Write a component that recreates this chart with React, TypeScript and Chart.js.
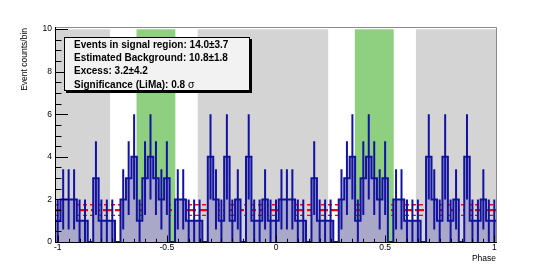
import React, { useEffect, useRef } from "react";
import { Chart, registerables } from "chart.js";

Chart.register(...registerables);

// ---------------- data ----------------
// counts per phase bin over one period (bin centres 0.000, 0.025, ... 0.975)
const periodCounts = [
  1, 2, 2, 2, 1, 1, 0, 3, 1, 1,
  1, 0, 2, 3, 4, 1, 3, 4, 3, 2,
  3, 0, 2, 2, 1, 1, 1, 0, 4, 2,
  1, 4, 1, 2, 0, 4, 1, 1, 2, 1,
];
const binWidth = 0.025;
const firstBinCentre = -1;
const binCount = 81; // phase shown twice, -1 ... 1
const backgroundRegions = [
  [-1.36, -0.76],
  [-0.36, 0.24],
  [0.64, 1.24],
];
const signalRegions = [
  [-0.64, -0.46],
  [0.36, 0.54],
];
const regionTop = 10;
const backgroundLevel = 1.5;
const backgroundLevelError = 0.25;
const xAxisMin = -1.0125;
const xAxisMax = 1.0125;
const yAxisMin = 0;
const yAxisMax = 10.1;
const xTickLabels = [-1, -0.5, 0, 0.5, 1];
const yTickLabels = [0, 2, 4, 6, 8, 10];
const xTitle = "Phase";
const yTitle = "Event counts/bin";
const statsLines = [
  "Events in signal region: 14.0\u00b13.7",
  "Estimated Background: 10.8\u00b11.8",
  "Excess: 3.2\u00b14.2",
  "Significance (LiMa): 0.8 ",
];
const statsSigma = "\u03c3";

// ---------------- styles ----------------
const FONT = "'Liberation Sans', Arial, Helvetica, sans-serif";
const histLine = "rgb(18,18,160)";
const histFill = "rgb(170,168,200)";
const grayBand = "rgb(212,212,212)";
const greenBand = "rgb(143,208,128)";
const red = "rgb(255,0,0)";

const rootStylePlugin = {
  id: "rootStyle",
  afterDatasetsDraw(chart: any) {
    const { ctx, chartArea: a, scales } = chart;
    const x = scales.x;
    const y = scales.y;
    ctx.save();
    // frame
    ctx.lineWidth = 1;
    ctx.strokeStyle = "#8a8a8a";
    ctx.beginPath();
    ctx.moveTo(a.left, a.top + 0.5);
    ctx.lineTo(a.right - 0.5, a.top + 0.5);
    ctx.lineTo(a.right - 0.5, a.bottom);
    ctx.stroke();
    ctx.strokeStyle = "#000";
    ctx.beginPath();
    ctx.moveTo(a.left + 0.5, a.top);
    ctx.lineTo(a.left + 0.5, a.bottom + 0.5);
    ctx.lineTo(a.right, a.bottom + 0.5);
    ctx.stroke();
    // y ticks (inside, from the left)
    ctx.beginPath();
    for (let i = 0; i <= 20; i++) {
      const v = i * 0.5;
      const py = Math.round(y.getPixelForValue(v)) + 0.5;
      const len = i % 4 === 0 ? 13 : 6.5;
      ctx.moveTo(a.left, py);
      ctx.lineTo(a.left + len, py);
    }
    // x ticks (inside, from the bottom)
    for (let i = -20; i <= 20; i++) {
      const v = i * 0.05;
      const px = Math.round(x.getPixelForValue(v)) + 0.5;
      const len = i % 10 === 0 ? 6.5 : 3.2;
      ctx.moveTo(px, a.bottom);
      ctx.lineTo(px, a.bottom - len);
    }
    ctx.stroke();
    ctx.restore();
  },
  afterDraw(chart: any) {
    const { ctx, chartArea: a } = chart;
    ctx.save();
    // axis titles
    ctx.fillStyle = "#000";
    ctx.font = `8.5px ${FONT}`;
    ctx.textAlign = "right";
    ctx.textBaseline = "alphabetic";
    ctx.fillText(xTitle, a.right - 1, 261);
    ctx.save();
    ctx.translate(27, a.top + 1);
    ctx.rotate(-Math.PI / 2);
    ctx.fillText(yTitle, 0, 0);
    ctx.restore();

    // stats box
    const bx = 64, by = 37, bw = 186, bh = 54;
    ctx.fillStyle = "#000";
    ctx.fillRect(bx + 2, by + 2, bw, bh);
    ctx.fillStyle = "#f2f2f2";
    ctx.fillRect(bx, by, bw, bh);
    ctx.strokeStyle = "#000";
    ctx.lineWidth = 1;
    ctx.strokeRect(bx + 0.5, by + 0.5, bw - 1, bh - 1);
    ctx.textAlign = "left";
    ctx.fillStyle = "#000";
    const baselines = [47.7, 61.0, 74.3, 87.6];
    statsLines.forEach((line, i) => {
      ctx.font = `bold 10px ${FONT}`;
      ctx.fillText(line, 74, baselines[i]);
      if (i === statsLines.length - 1) {
        const w = ctx.measureText(line).width;
        ctx.font = `10.5px ${FONT}`;
        ctx.fillText(statsSigma, 74 + w, baselines[i]);
      }
    });
    ctx.restore();
  },
};

export default function App() {
  const canvasRef = useRef<HTMLCanvasElement | null>(null);

  useEffect(() => {
    const canvas = canvasRef.current;
    if (!canvas) return;

    const centres = Array.from({ length: binCount }, (_, j) => firstBinCentre + j * binWidth);
    const counts = centres.map((_, j) => periodCounts[j % periodCounts.length]);

    // step outline of the histogram
    const step: { x: number; y: number }[] = [];
    step.push({ x: centres[0] - binWidth / 2, y: 0 });
    centres.forEach((c, j) => {
      step.push({ x: c - binWidth / 2, y: counts[j] });
      step.push({ x: c + binWidth / 2, y: counts[j] });
    });
    step.push({ x: centres[centres.length - 1] + binWidth / 2, y: 0 });

    // vertical error bars
    const errs: { x: number; y: number | null }[] = [];
    centres.forEach((c, j) => {
      const v = counts[j];
      if (v <= 0) return;
      const e = Math.sqrt(v);
      errs.push({ x: c, y: v - e });
      errs.push({ x: c, y: v + e });
      errs.push({ x: c, y: null });
    });

    const band = (r: number[], color: string) => ({
      data: [
        { x: r[0], y: regionTop },
        { x: r[1], y: regionTop },
      ],
      fill: "origin",
      backgroundColor: color,
      borderWidth: 0,
      borderColor: "rgba(0,0,0,0)",
      pointRadius: 0,
      order: 10,
    });

    const redLine = (level: number, width: number, dash: number[]) => ({
      data: [
        { x: xAxisMin, y: level },
        { x: xAxisMax, y: level },
      ],
      borderColor: red,
      borderWidth: width,
      borderDash: dash,
      pointRadius: 0,
      fill: false,
      order: 5,
    });

    const datasets: any[] = [
      ...backgroundRegions.map((r) => band(r, grayBand)),
      ...signalRegions.map((r) => band(r, greenBand)),
      redLine(backgroundLevel, 2.2, [9, 3]),
      redLine(backgroundLevel + backgroundLevelError, 1.4, [4, 3]),
      redLine(backgroundLevel - backgroundLevelError, 1.4, [4, 3]),
      {
        data: step,
        borderColor: histLine,
        borderWidth: 2,
        backgroundColor: histFill,
        fill: "origin",
        pointRadius: 0,
        tension: 0,
        order: 2,
      },
      {
        data: errs,
        borderColor: histLine,
        borderWidth: 2,
        pointRadius: 0,
        fill: false,
        spanGaps: false,
        order: 1,
      },
    ];

    const chart = new Chart(canvas, {
      type: "line",
      data: { datasets },
      plugins: [rootStylePlugin],
      options: {
        animation: false,
        responsive: false,
        devicePixelRatio: 1,
        events: [],
        layout: { padding: { left: 0, top: 27, right: 55, bottom: 0 } },
        plugins: { legend: { display: false }, tooltip: { enabled: false } },
        scales: {
          x: {
            type: "linear",
            min: xAxisMin,
            max: xAxisMax,
            afterBuildTicks: (s: any) => {
              s.ticks = xTickLabels.map((value) => ({ value }));
            },
            afterFit: (s: any) => {
              s.height = 27;
            },
            ticks: {
              autoSkip: false,
              maxRotation: 0,
              minRotation: 0,
              padding: 1,
              color: "#000",
              font: { family: FONT, size: 8.5 },
              callback: (v: any) => String(v),
            },
            grid: { display: false, drawTicks: false },
            border: { display: false },
          },
          y: {
            type: "linear",
            min: yAxisMin,
            max: yAxisMax,
            afterBuildTicks: (s: any) => {
              s.ticks = yTickLabels.map((value) => ({ value }));
            },
            afterFit: (s: any) => {
              s.width = 55;
            },
            ticks: {
              autoSkip: false,
              padding: 3,
              color: "#000",
              font: { family: FONT, size: 8.5 },
              callback: (v: any) => String(v),
            },
            grid: { display: false, drawTicks: false },
            border: { display: false },
          },
        },
      } as any,
    });

    return () => chart.destroy();
  }, []);

  return (
    <div style={{ position: "fixed", left: 0, top: 0, width: 552, height: 269, background: "#fff" }}>
      <canvas ref={canvasRef} width={552} height={269} style={{ display: "block", width: 552, height: 269 }} />
    </div>
  );
}
